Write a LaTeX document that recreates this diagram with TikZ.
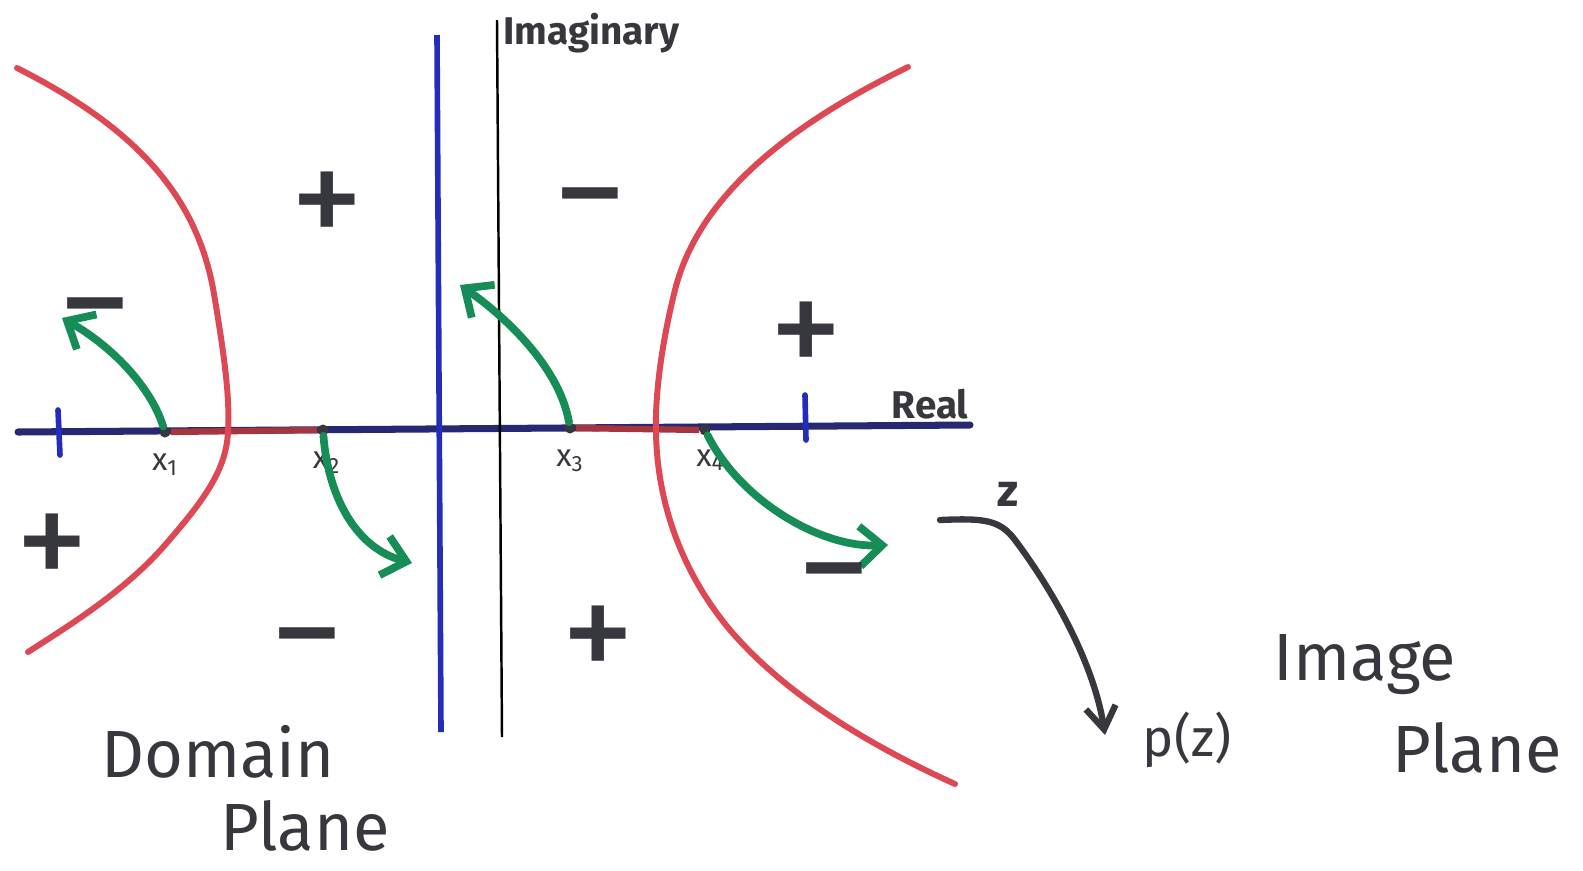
\documentclass[tikz,border=0pt]{standalone}
\usepackage{fontspec}
\setmainfont{Fira Sans}
\usetikzlibrary{arrows.meta,positioning}
\definecolor{inkgray}{RGB}{55,55,62}
\definecolor{navyink}{RGB}{38,40,115}
\definecolor{blueink}{RGB}{35,45,185}
\definecolor{redink}{RGB}{220,72,84}
\definecolor{greenink}{RGB}{22,140,86}
\begin{document}
\begin{tikzpicture}[x=0.02cm, y=-0.02cm,
  every node/.style={text=inkgray},
  axis/.style={draw=navyink, line width=4pt, line cap=round},
  redseg/.style={draw=redink!75!black, line width=3.6pt},
  tick/.style={draw=blueink, line width=3.2pt, line cap=round},
  hyper/.style={draw=redink, line width=3.4pt, line cap=round},
  flow/.style={draw=greenink, line width=4.4pt, line cap=round,
    -{Straight Barb[length=4.5mm,width=8mm,line width=4.4pt]}},
  pen/.style={draw=inkgray, line width=3.6pt, line cap=round,
    -{Straight Barb[length=4.5mm,width=6mm,line width=3.6pt]}},
  pt/.style={circle, fill=inkgray, inner sep=0pt, minimum size=2.2mm},
  ptlab/.style={font=\fontsize{18}{18}\selectfont},
  sign/.style={font=\fontsize{84}{84}\selectfont},
  axlab/.style={font=\fontsize{22}{24}\selectfont\bfseries},
  bigword/.style={font=\fontsize{38}{42}\selectfont}]
\useasboundingbox (0,0) rectangle (1583,870);

% real axis with the roots on it
\coordinate (rl) at (18,432);
\coordinate (rr) at (970,425);
\draw[axis] (rl) -- (rr);
\node[pt] (p1) at (165,432) {};
\node[pt] (p2) at (323,430) {};
\node[pt] (p3) at (570,428) {};
\node[pt] (p4) at (705,430) {};
\draw[redseg] (p1) -- (p2);
\draw[redseg] (p3) -- (p4);
\draw[tick] (58,410) -- (60,455);
\draw[tick] (805,395) -- (806,440);
\node[ptlab, below=0.2cm of p1] {x\textsubscript{1}};
\node[ptlab, below=0.2cm of p2, xshift=2pt] {x\textsubscript{2}};
\node[ptlab, below=0.2cm of p3] {x\textsubscript{3}};
\node[ptlab, below=0.15cm of p4, xshift=3pt] {x\textsubscript{4}};
\node[axlab] (reallab) at (930,404) {Real};

% imaginary axes
\draw[draw=blueink, line width=3.2pt] (437,35) -- (441,732);
\draw[draw=black, line width=1.4pt] (497,20) -- (502,737);
\node[axlab, anchor=west] (imlab) at (497,33) {Imaginary};

% hyperbola branches
\draw[hyper] (17,68) .. controls (140,130) and (200,200) .. (215,300)
  .. controls (225,360) and (230,400) .. (228,432)
  .. controls (226,470) and (205,499) .. (165,545)
  .. controls (125,591) and (70,625) .. (28,652);
\draw[hyper] (908,67) .. controls (800,120) and (700,190) .. (675,290)
  .. controls (660,350) and (655,400) .. (656,432)
  .. controls (657,500) and (680,570) .. (730,630)
  .. controls (790,700) and (880,750) .. (955,784);

% flow away from the roots
\draw[flow] (p1) .. controls (150,385) and (110,345) .. (62,318);
\draw[flow] (p2) .. controls (328,495) and (355,548) .. (412,563);
\draw[flow] (p3) .. controls (560,370) and (510,320) .. (460,285);
\draw[flow] (p4) .. controls (740,500) and (820,548) .. (888,545);

% signs of the regions
\node[sign] (s1) at (327,210) {+};
\node[sign] (s2) at (590,215) {−};
\node[sign] (s3) at (95,325) {−};
\node[sign] (s4) at (806,340) {+};
\node[sign] (s5) at (52,552) {+};
\node[sign] (s6) at (307,655) {−};
\node[sign] (s7) at (598,644) {+};
\node[sign] (s8) at (834,590) {−};

% the map z -> p(z)
\coordinate (zs) at (940,520);
\coordinate (ze) at (1105,735);
\node[font=\fontsize{26}{28}\selectfont\bfseries] (zlab) at (1008,494) {z};
\node[font=\fontsize{30}{32}\selectfont] (pzlab) at (1187,740) {p(z)};
\draw[pen] (zs) .. controls (985,518) and (1000,520) .. (1015,540)
  .. controls (1060,600) and (1095,670) .. (ze);

% plane names
\node[bigword] (dom) at (218,752) {Domain};
\node[bigword] (domp) at (305,826) {Plane};
\node[bigword] (img) at (1365,665) {Image};
\node[bigword] (imgp) at (1477,748) {Plane};
\end{tikzpicture}
\end{document}
